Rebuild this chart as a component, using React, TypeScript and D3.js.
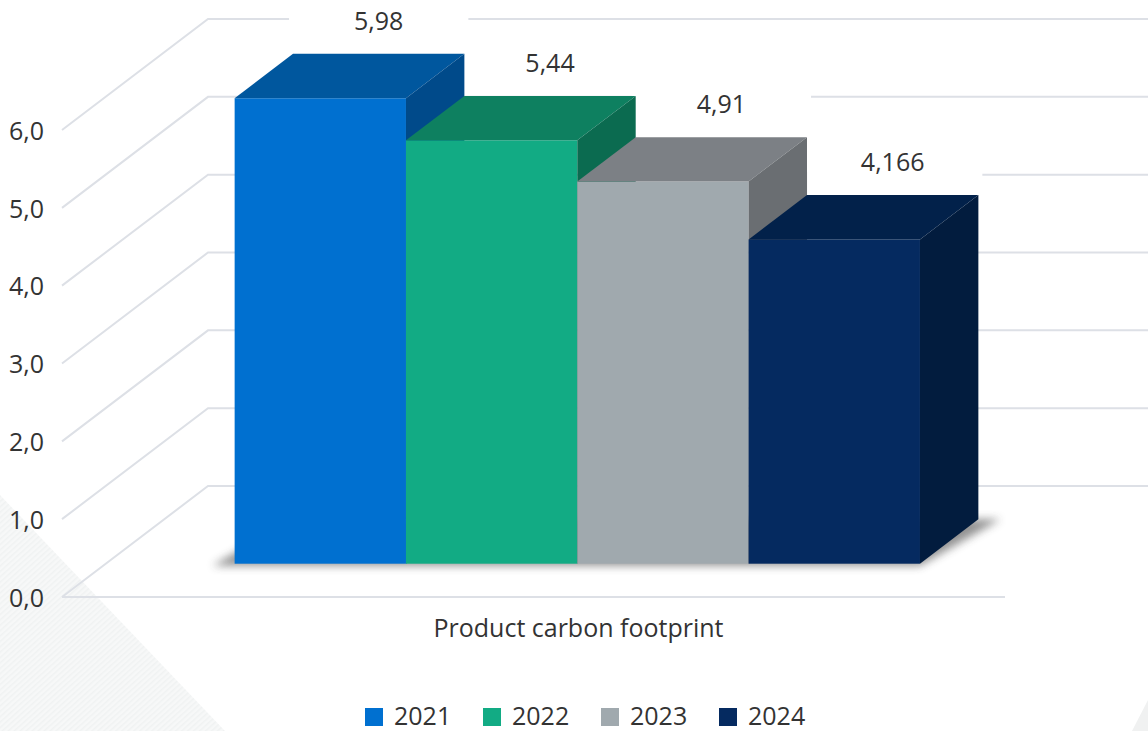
import React from "react";
import * as d3 from "d3";

const category = "Product carbon footprint";
const years = ["2021", "2022", "2023", "2024"];
const values = [5.98, 5.44, 4.91, 4.166];
const valueLabels = ["5,98", "5,44", "4,91", "4,166"];
const yTicks = [0, 1, 2, 3, 4, 5, 6];
const frontColors = ["#0070d0", "#12ab84", "#a0a9ae", "#052a60"];
const topColors = ["#00579e", "#0e8060", "#7c8085", "#02214a"];
const sideColors = ["#004a8a", "#0b6b50", "#6a6e72", "#021c3e"];

const W = 1148;
const H = 731;
const FRONT_L = 62;
const FRONT_R = 1005;
const DX = 146;
const DY = -111;
const Z0 = 0.3;
const Z1 = 0.7;
const FS = 25;

export default function App() {
  const y = d3.scaleLinear().domain([0, 6]).range([597, 130]);
  const xCat = d3.scaleBand().domain([category]).range([FRONT_L, FRONT_R]).paddingOuter(0.188).paddingInner(0);
  const xBar = d3
    .scaleBand()
    .domain(years)
    .range([xCat(category)!, xCat(category)! + xCat.bandwidth()])
    .padding(0);
  const fmt = (v: number) => d3.format(".1f")(v).replace(".", ",");

  const ox0 = DX * Z0, oy0 = DY * Z0;
  const ddx = DX * (Z1 - Z0), ddy = DY * (Z1 - Z0);
  const pts = (arr: number[][]) => arr.map((p) => p.join(",")).join(" ");

  const font = "'Open Sans', 'Noto Sans', sans-serif";

  const baseY = y(0) + oy0;
  const firstX = xBar(years[0])! + ox0;
  const lastX = xBar(years[years.length - 1])! + xBar.bandwidth() + ox0;

  return (
    <svg width={W} height={H} style={{ position: "absolute", left: 0, top: 0 }} xmlns="http://www.w3.org/2000/svg">
      <defs>
        <filter id="blur" x="-20%" y="-50%" width="140%" height="200%">
          <feGaussianBlur stdDeviation="4" />
        </filter>
        <pattern id="stripes" width="4" height="4" patternUnits="userSpaceOnUse" patternTransform="rotate(48)">
          <rect width="4" height="4" fill="#f7f8f8" />
          <rect width="1.5" height="4" fill="#f0f2f2" />
        </pattern>
      </defs>
      <rect width={W} height={H} fill="#ffffff" />
      <polygon points={pts([[0, 495], [225, H], [0, H]])} fill="url(#stripes)" />
      <polygon points={pts([[W, 700], [W, H], [1132, H]])} fill="#f0f1f1" />

      {/* gridlines */}
      {yTicks.map((t) => (
        <polyline
          key={t}
          points={pts([
            [FRONT_L, y(t)],
            [FRONT_L + DX, y(t) + DY],
            [FRONT_R + DX, y(t) + DY],
          ])}
          fill="none"
          stroke="#dde0e6"
          strokeWidth={2}
        />
      ))}
      <line x1={FRONT_L} x2={FRONT_R} y1={y(0)} y2={y(0)} stroke="#dde0e6" strokeWidth={2} />

      {/* y tick labels */}
      {yTicks.map((t) => (
        <text
          key={t}
          x={44}
          y={y(t) + 3}
          textAnchor="end"
          dominantBaseline="middle"
          fontFamily={font}
          fontSize={FS}
          fill="#333333"
        >
          {fmt(t)}
        </text>
      ))}

      {/* value label backgrounds */}
      {years.map((yr, i) => {
        const x0 = xBar(yr)! + ox0 + ddx;
        const ty = y(values[i]) + oy0 + ddy;
        return <rect key={yr} x={x0 - 4} y={ty - 50} width={xBar.bandwidth() + 8} height={46} fill="#ffffff" />;
      })}

      {/* shadow */}
      <polygon
        points={pts([
          [firstX - 22, baseY + 2],
          [lastX, baseY + 2],
          [lastX + ddx + 22, baseY + ddy],
          [firstX + ddx, baseY + ddy],
        ])}
        fill="#3a3a3a"
        opacity={0.55}
        filter="url(#blur)"
      />

      {/* bars */}
      {years.map((yr, i) => {
        const x0 = xBar(yr)! + ox0;
        const x1 = x0 + xBar.bandwidth();
        const yt = y(values[i]) + oy0;
        const yb = y(0) + oy0;
        return (
          <g key={yr}>
            <rect x={x0} y={yt} width={x1 - x0} height={yb - yt} fill={frontColors[i]} />
            <polygon
              points={pts([
                [x0, yt],
                [x0 + ddx, yt + ddy],
                [x1 + ddx, yt + ddy],
                [x1, yt],
              ])}
              fill={topColors[i]}
            />
            <polygon
              points={pts([
                [x1, yt],
                [x1 + ddx, yt + ddy],
                [x1 + ddx, yb + ddy],
                [x1, yb],
              ])}
              fill={sideColors[i]}
            />
          </g>
        );
      })}

      {/* value labels */}
      {years.map((yr, i) => {
        const cx = xBar(yr)! + ox0 + ddx + xBar.bandwidth() / 2;
        const ty = y(values[i]) + oy0 + ddy;
        return (
          <text
            key={yr}
            x={cx}
            y={ty - 31}
            textAnchor="middle"
            dominantBaseline="middle"
            fontFamily={font}
            fontSize={FS}
            fill="#333333"
          >
            {valueLabels[i]}
          </text>
        );
      })}

      {/* category label */}
      <text
        x={xCat(category)! + xCat.bandwidth() / 2 + 45}
        y={630}
        textAnchor="middle"
        dominantBaseline="middle"
        fontFamily={font}
        fontSize={FS}
        fill="#333333"
      >
        {category}
      </text>

      {/* legend */}
      {years.map((yr, i) => {
        const lx = 365 + i * 118;
        return (
          <g key={yr}>
            <rect x={lx} y={708} width={18} height={18} fill={frontColors[i]} />
            <text x={lx + 29} y={718} dominantBaseline="middle" fontFamily={font} fontSize={FS} fill="#333333">
              {yr}
            </text>
          </g>
        );
      })}
    </svg>
  );
}
